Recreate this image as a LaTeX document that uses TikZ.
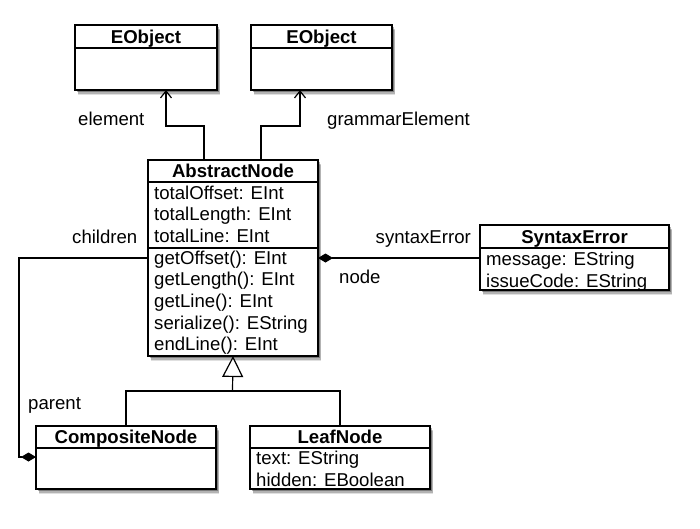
\documentclass[tikz,border=0pt]{standalone}
\usepackage{fontspec}
\setmainfont{Liberation Sans}
\usetikzlibrary{arrows.meta,shadows}
\begin{document}
\begin{tikzpicture}[x=1pt,y=-1pt,
  cls/.style={draw, line width=1.2pt, fill=white, inner sep=0pt, outer sep=0pt, anchor=north west,
    drop shadow={shadow xshift=3pt,shadow yshift=-5pt,opacity=0.12,fill=black},
    drop shadow={shadow xshift=2.5pt,shadow yshift=-3.5pt,opacity=0.2,fill=black},
    drop shadow={shadow xshift=1.5pt,shadow yshift=-2pt,opacity=0.3,fill=black}},
  hdr/.style={anchor=base, inner sep=0pt, font=\fontsize{18.6}{21.7}\selectfont\bfseries},
  attr/.style={anchor=base west, inner sep=0pt, font=\fontsize{18.6}{21.7}\selectfont},
  lbl/.style={inner sep=0pt, font=\fontsize{18.6}{21.7}\selectfont},
  sepline/.style={line width=1.2pt},
  conn/.style={line width=1.2pt},
  assoc/.style={conn, -{Straight Barb[length=7pt,width=11pt,line width=1.2pt]}},
  gen/.style={conn, -{Triangle[open,length=21pt,width=21pt,line width=1.2pt,fill=white]}},
  compend/.style={conn, -{Diamond[length=15pt,width=9pt]}},
  compstart/.style={conn, {Diamond[length=15pt,width=9pt]}-},
]
\useasboundingbox[fill=white] (0,0) rectangle (700,528);

% ---- classes ----
\node[cls, minimum width=142pt, minimum height=65pt] (eo1) at (75,25) {};
\draw[sepline] ([yshift=-23pt]eo1.north west) -- ([yshift=-23pt]eo1.north east);
\node[hdr] (eo1h) at ([yshift=-18pt]eo1.north) {EObject};

\node[cls, minimum width=141pt, minimum height=65pt] (eo2) at (251,25) {};
\draw[sepline] ([yshift=-23pt]eo2.north west) -- ([yshift=-23pt]eo2.north east);
\node[hdr] (eo2h) at ([yshift=-18pt]eo2.north) {EObject};

\node[cls, minimum width=170pt, minimum height=196pt] (an) at (148,160) {};
\draw[sepline] ([yshift=-22pt]an.north west) -- ([yshift=-22pt]an.north east);
\draw[sepline] ([yshift=-88pt]an.north west) -- ([yshift=-88pt]an.north east);
\node[hdr] (anh) at ([yshift=-17.5pt]an.north) {AbstractNode};
\node[attr] (an1) at (154,199) {totalOffset: EInt};
\node[attr] (an2) at (154,220.7) {totalLength: EInt};
\node[attr] (an3) at (154,242.4) {totalLine: EInt};
\node[attr] (an4) at (154,264.1) {getOffset(): EInt};
\node[attr] (an5) at (154,285.8) {getLength(): EInt};
\node[attr] (an6) at (154,307.5) {getLine(): EInt};
\node[attr] (an7) at (154,329.2) {serialize(): EString};
\node[attr] (an8) at (154,350.9) {endLine(): EInt};

\node[cls, minimum width=189pt, minimum height=65pt] (se) at (480,225) {};
\draw[sepline] ([yshift=-23pt]se.north west) -- ([yshift=-23pt]se.north east);
\node[hdr] (seh) at ([yshift=-18pt]se.north) {SyntaxError};
\node[attr] (se1) at (486,265.5) {message: EString};
\node[attr] (se2) at (486,287) {issueCode: EString};

\node[cls, minimum width=180pt, minimum height=63pt] (cn) at (36,426) {};
\draw[sepline] ([yshift=-22pt]cn.north west) -- ([yshift=-22pt]cn.north east);
\node[hdr] (cnh) at ([yshift=-17.5pt]cn.north) {CompositeNode};

\node[cls, minimum width=180pt, minimum height=63pt] (ln) at (250,426) {};
\draw[sepline] ([yshift=-22pt]ln.north west) -- ([yshift=-22pt]ln.north east);
\node[hdr] (lnh) at ([yshift=-17.5pt]ln.north) {LeafNode};
\node[attr] (ln1) at (256,464.5) {text: EString};
\node[attr] (ln2) at (256,486) {hidden: EBoolean};

% ---- associations to EObject ----
\draw[assoc] ([xshift=56pt]an.north west) -- ++(0,-34) -| ([xshift=91pt]eo1.south west);
\draw[assoc] ([xshift=113pt]an.north west) -- ++(0,-34) -| ([xshift=49pt]eo2.south west);
\node[lbl, anchor=base west] (lelem) at (78,125) {element};
\node[lbl, anchor=base west] (lgram) at (327,125) {grammarElement};

% ---- generalization ----
\coordinate (j) at (232.5,391);
\draw[conn] ([xshift=90pt]cn.north west) |- (j) -| ([xshift=90pt]ln.north west);
\draw[gen] (j) -- (an.south);

% ---- children / parent composition ----
\coordinate (anl) at ([yshift=-98pt]an.north west);
\coordinate (cnl) at ([yshift=-31pt]cn.north west);
\coordinate (cx) at (19,0);
\draw[compend] (anl) -- (cx |- anl) -- (cx |- cnl) -- (cnl);
\node[lbl, anchor=base west] (lchild) at (72,243) {children};
\node[lbl, anchor=base west] (lparent) at (28,409) {parent};

% ---- syntax error composition ----
\coordinate (anr) at ([yshift=-98pt]an.north east);
\draw[compstart] (anr) -- (se.west |- anr);
\node[lbl, anchor=base east] (lsyn) at (471,243) {syntaxError};
\node[lbl, anchor=base west] (lnode) at (339,283) {node};
\end{tikzpicture}
\end{document}
